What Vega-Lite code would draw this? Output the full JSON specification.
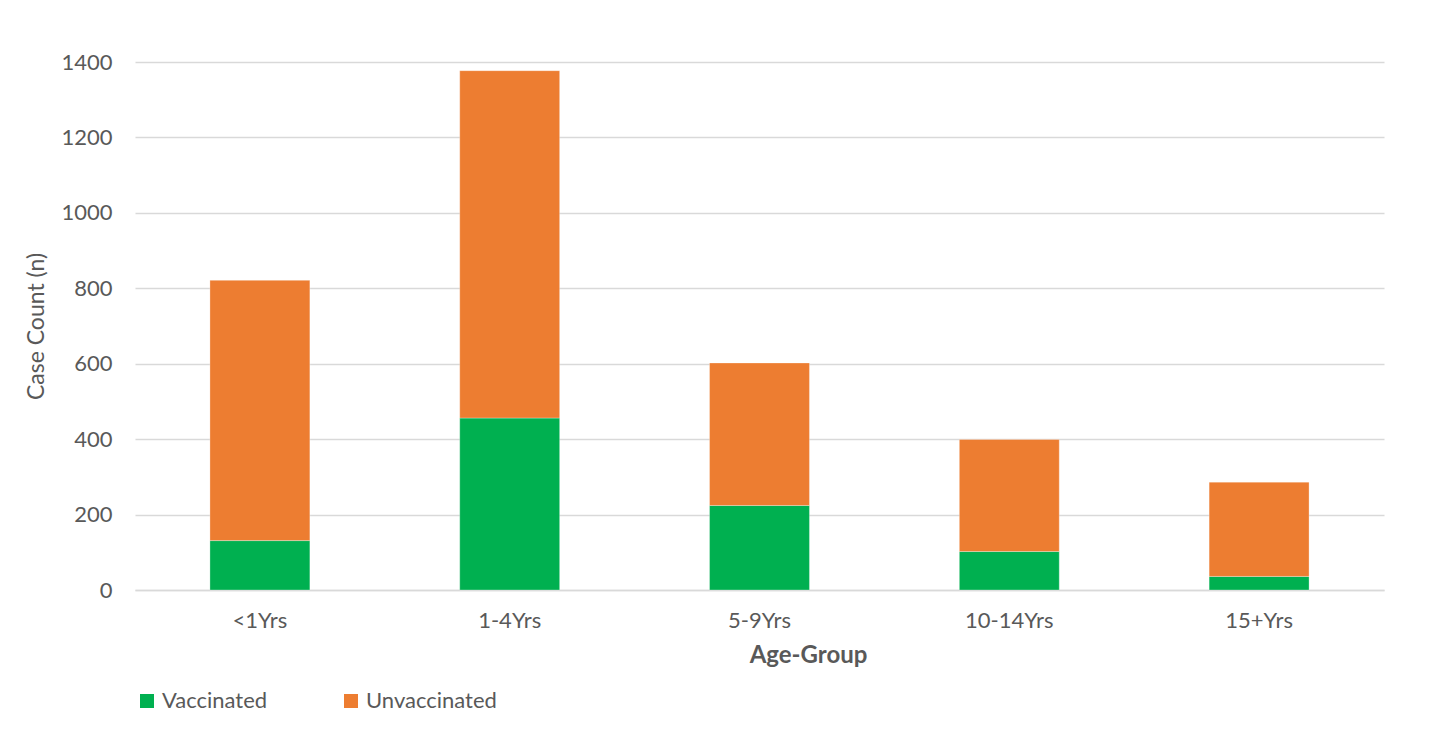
{
  "$schema": "https://vega.github.io/schema/vega-lite/v6.json",
  "width": 1249,
  "height": 528,
  "autosize": {"type": "none"},
  "padding": {"left": 135, "top": 62, "right": 48, "bottom": 142},
  "background": "white",
  "config": {
    "font": "Lato",
    "view": {"stroke": null},
    "axis": {"labelColor": "#595959", "titleColor": "#595959", "labelFont": "Lato", "titleFont": "Lato"}
  },
  "data": {
    "values": [
      {"age": "<1Yrs", "status": "Vaccinated", "count": 131},
      {"age": "<1Yrs", "status": "Unvaccinated", "count": 690},
      {"age": "1-4Yrs", "status": "Vaccinated", "count": 456},
      {"age": "1-4Yrs", "status": "Unvaccinated", "count": 921},
      {"age": "5-9Yrs", "status": "Vaccinated", "count": 224},
      {"age": "5-9Yrs", "status": "Unvaccinated", "count": 378},
      {"age": "10-14Yrs", "status": "Vaccinated", "count": 102},
      {"age": "10-14Yrs", "status": "Unvaccinated", "count": 297},
      {"age": "15+Yrs", "status": "Vaccinated", "count": 36},
      {"age": "15+Yrs", "status": "Unvaccinated", "count": 250}
    ]
  },
  "mark": {"type": "bar", "stroke": "white", "strokeWidth": 0.6, "strokeOpacity": 0.5},
  "encoding": {
    "x": {
      "field": "age",
      "type": "nominal",
      "sort": null,
      "scale": {"paddingInner": 0.6, "paddingOuter": 0.3},
      "axis": {
        "title": "Age-Group",
        "titleFontSize": 24,
        "titleFontWeight": "bold",
        "titleX": 673,
        "titlePadding": 12,
        "labelAngle": 0,
        "labelFontSize": 22,
        "labelPadding": 20,
        "ticks": false,
        "domainColor": "#d9d9d9",
        "domainWidth": 1.5
      }
    },
    "y": {
      "field": "count",
      "type": "quantitative",
      "stack": "zero",
      "scale": {"domain": [0, 1400]},
      "axis": {
        "title": "Case Count (n)",
        "titleFontSize": 23,
        "titleFontWeight": "normal",
        "titlePadding": 12,
        "values": [0, 200, 400, 600, 800, 1000, 1200, 1400],
        "format": "d",
        "labelFontSize": 22,
        "labelPadding": 23,
        "ticks": false,
        "domain": false,
        "gridColor": "#d9d9d9",
        "gridWidth": 1.5
      }
    },
    "color": {
      "field": "status",
      "type": "nominal",
      "scale": {"domain": ["Vaccinated", "Unvaccinated"], "range": ["#00B050", "#ED7D31"]},
      "legend": {
        "title": null,
        "orient": "none",
        "direction": "horizontal",
        "legendX": 1,
        "legendY": 628,
        "symbolType": "square",
        "symbolSize": 196,
        "symbolStrokeWidth": 0,
        "labelFontSize": 22,
        "labelColor": "#595959",
        "labelFont": "Lato",
        "labelOffset": 4,
        "columnPadding": 72
      }
    },
    "order": {"field": "status", "sort": "descending"}
  }
}
